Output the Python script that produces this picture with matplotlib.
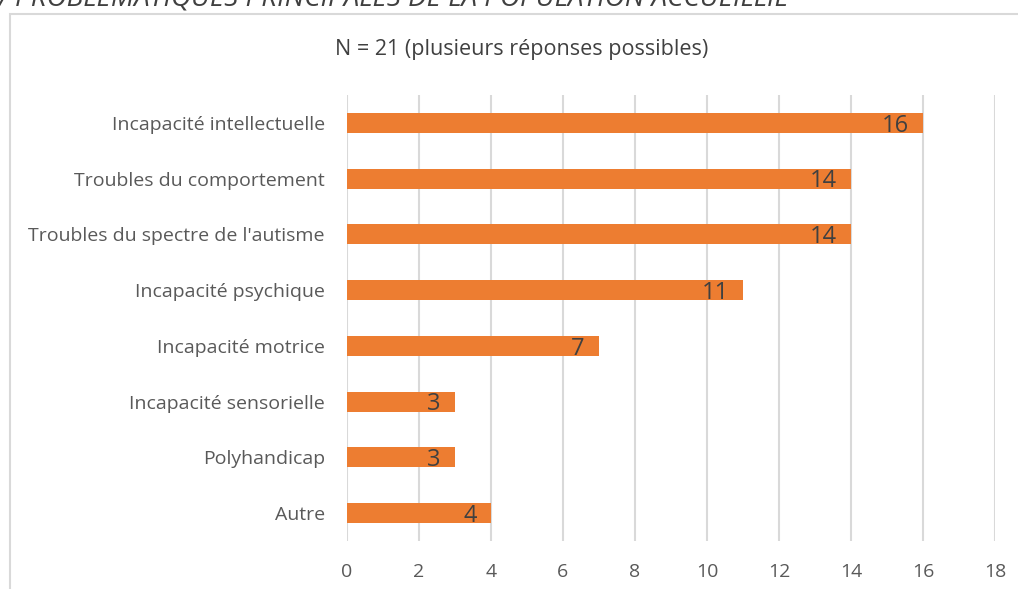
import matplotlib.pyplot as plt
from matplotlib.patches import Rectangle

categories = ["Incapacité intellectuelle", "Troubles du comportement",
              "Troubles du spectre de l'autisme", "Incapacité psychique",
              "Incapacité motrice", "Incapacité sensorielle",
              "Polyhandicap", "Autre"]
values = [16, 14, 14, 11, 7, 3, 3, 4]
xticks = [0, 2, 4, 6, 8, 10, 12, 14, 16, 18]

plt.rcParams['font.family'] = ['Open Sans', 'DejaVu Sans']
W, H = 1018, 589
fig = plt.figure(figsize=(W / 100, H / 100), dpi=100)

# chart frame
fig.patches.append(Rectangle((10 / W, -0.05), 1.1, 1 - 14 / H + 0.05,
                             transform=fig.transFigure, fill=False,
                             edgecolor="#D9D9D9", lw=1.5))

# cut-off section heading at the very top
fig.text(-2 / W, 1 - 5 / H, "/ PROBLÉMATIQUES PRINCIPALES DE LA POPULATION ACCUEILLIE",
         fontsize=20, style="italic", color="#404040", va="baseline", ha="left")

fig.text(522 / W, 1 - 49 / H, "N = 21 (plusieurs réponses possibles)",
         fontsize=15.5, color="#404040", ha="center", va="center")

ax = fig.add_axes([347 / W, 48 / H, (995 - 347) / W, (541 - 95) / H])
ypos = list(range(len(categories)))
ax.barh(ypos, values, height=0.36, color="#ED7D31", zorder=3)
for y, v in zip(ypos, values):
    ax.text(v - 0.4, y + 0.05, str(v), ha="right", va="center",
            fontsize=17, color="#404040", zorder=4)

ax.set_xlim(0, 18)
ax.set_ylim(len(categories) - 0.5, -0.5)
ax.set_xticks(xticks)
ax.set_yticks(ypos)
ax.set_yticklabels(categories)
ax.grid(axis="x", color="#D9D9D9", lw=1.5, zorder=0)
for s in ax.spines.values():
    s.set_visible(False)
ax.tick_params(axis="both", length=0, labelsize=14, colors="#595959")
ax.tick_params(axis="x", pad=16)
ax.tick_params(axis="y", pad=16)

fig.savefig("out.png", dpi=100)
